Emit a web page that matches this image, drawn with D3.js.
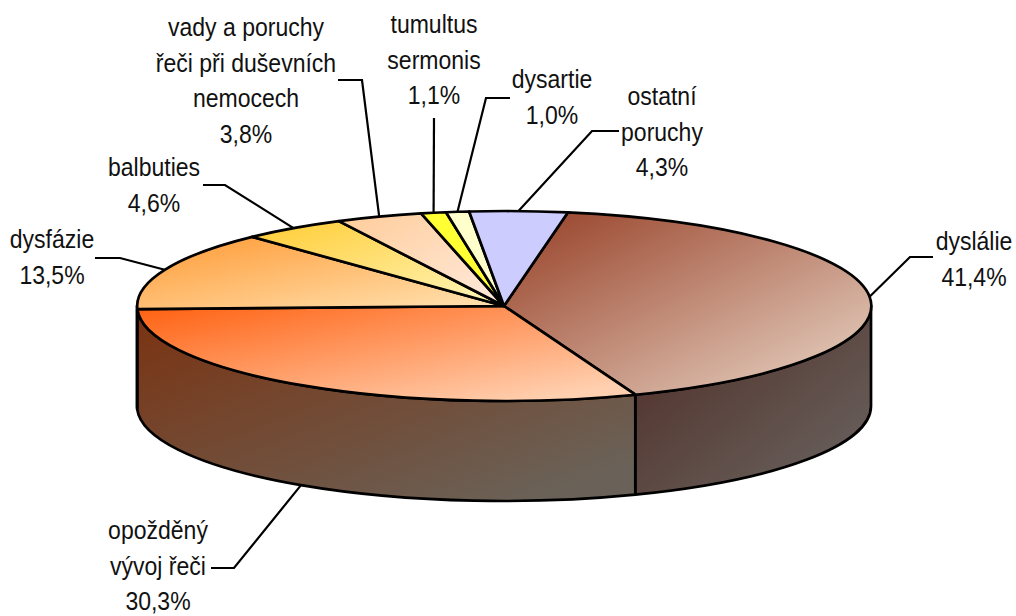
<!DOCTYPE html>
<html><head><meta charset="utf-8">
<script src="https://cdn.jsdelivr.net/npm/d3@7"></script>
<style>html,body{margin:0;background:#fff}svg{display:block}text{font-family:"Liberation Sans",Arial,sans-serif;font-size:26px;fill:#111}</style>
</head><body><svg id="c" width="1016" height="616"></svg>
<script>
const categories=["dyslálie","opožděný vývoj řeči","dysfázie","balbuties","vady a poruchy řeči při duševních nemocech","tumultus sermonis","dysartie","ostatní poruchy"];
const values=[41.4,30.3,13.5,4.6,3.8,1.1,1.0,4.3];
const valueLabels=["41,4%","30,3%","13,5%","4,6%","3,8%","1,1%","1,0%","4,3%"];
const labelLines=[["dyslálie"],["opožděný","vývoj řeči"],["dysfázie"],["balbuties"],["vady a poruchy","řeči při duševních","nemocech"],["tumultus","sermonis"],["dysartie"],["ostatní","poruchy"]];
const topColors=[["#963f26","#e2c8b8"],["#ff6010","#ffd0b0"],["#ff9933","#ffdda8"],["#ffcc33","#fff2b0"],["#ffcc99","#ffe8d8"],["#ffff33","#ffff33"],["#ffffcc","#ffffcc"],["#ccccff","#ccccff"]];
const sideColors=[["#4e2b24","#68605c"],["#7b3210","#6a6258"]];
// layout
const cx=504,cy=306,rx=367,ry=95,depth=100,startDeg=10,textSqueeze=0.885;
const labelX=[974,158,52,154,246,434,552,662];
const labelBase=[250,539,248,176,36,33,88,105];
const lineGap=35.5;
const elbow=[[910,257,933],[234,568,211],[120,258,95],[225,185,203],[362,80,338],[434,118,434],[486,98,510],[592,131,619]];

const svg=d3.select("#c"),defs=svg.append("defs");
const slices=d3.pie().sort(null).value(d=>d).startAngle(startDeg*Math.PI/180).endAngle((startDeg+360)*Math.PI/180)(values);
const arc=d3.arc().innerRadius(0).outerRadius(1);
const X=d3.scaleLinear().domain([-1,1]).range([cx-rx,cx+rx]);
const Y=d3.scaleLinear().domain([-1,1]).range([cy-ry,cy+ry]);
function grad(id,c){const g=defs.append("linearGradient").attr("id",id).attr("x1",0).attr("y1",0).attr("x2",1).attr("y2",1);
  g.append("stop").attr("offset",0).attr("stop-color",c[0]);g.append("stop").attr("offset",0.9).attr("stop-color",c[1]);}
topColors.forEach((c,i)=>grad("t"+i,c));
sideColors.forEach((c,i)=>grad("s"+i,c));
const pie=svg.append("g").attr("transform",`translate(${cx},${cy}) scale(${rx},${ry})`);
const d=depth/ry,lo=Math.PI/2,hi=3*Math.PI/2;
slices.forEach((s,i)=>{
  const a0=Math.max(s.startAngle,lo),a1=Math.min(s.endAngle,hi);
  if(a1<=a0)return;
  const p=d3.path();
  p.arc(0,0,1,a0-lo,a1-lo,false);
  p.lineTo(Math.cos(a1-lo),Math.sin(a1-lo)+d);
  p.arc(0,d,1,a1-lo,a0-lo,true);
  p.closePath();
  pie.append("path").attr("d",p.toString()).attr("fill",`url(#s${i})`).attr("stroke","#000").attr("stroke-width",2.7).attr("stroke-linejoin","round").attr("vector-effect","non-scaling-stroke");
});
slices.forEach((s,i)=>{
  pie.append("path").attr("d",arc(s)).attr("fill",`url(#t${i})`).attr("stroke","#000").attr("stroke-width",2.7).attr("stroke-linejoin","round").attr("vector-effect","non-scaling-stroke");
});
const line=d3.line();
slices.forEach((s,i)=>{
  const m=(s.startAngle+s.endAngle)/2;
  const x0=X(Math.sin(m));let y0=Y(-Math.cos(m));
  if(Math.cos(m)<0)y0+=depth;
  const e=elbow[i];
  svg.append("path").attr("d",line([[x0,y0],[e[0],e[1]],[e[2],e[1]]])).attr("fill","none").attr("stroke","#000").attr("stroke-width",2.2);
  const lines=labelLines[i].concat(valueLabels[i]);
  lines.forEach((l,k)=>svg.append("text").attr("text-anchor","middle")
    .attr("transform",`translate(${labelX[i]},${labelBase[i]+k*lineGap}) scale(${textSqueeze},1)`).text(l));
});
</script></body></html>
